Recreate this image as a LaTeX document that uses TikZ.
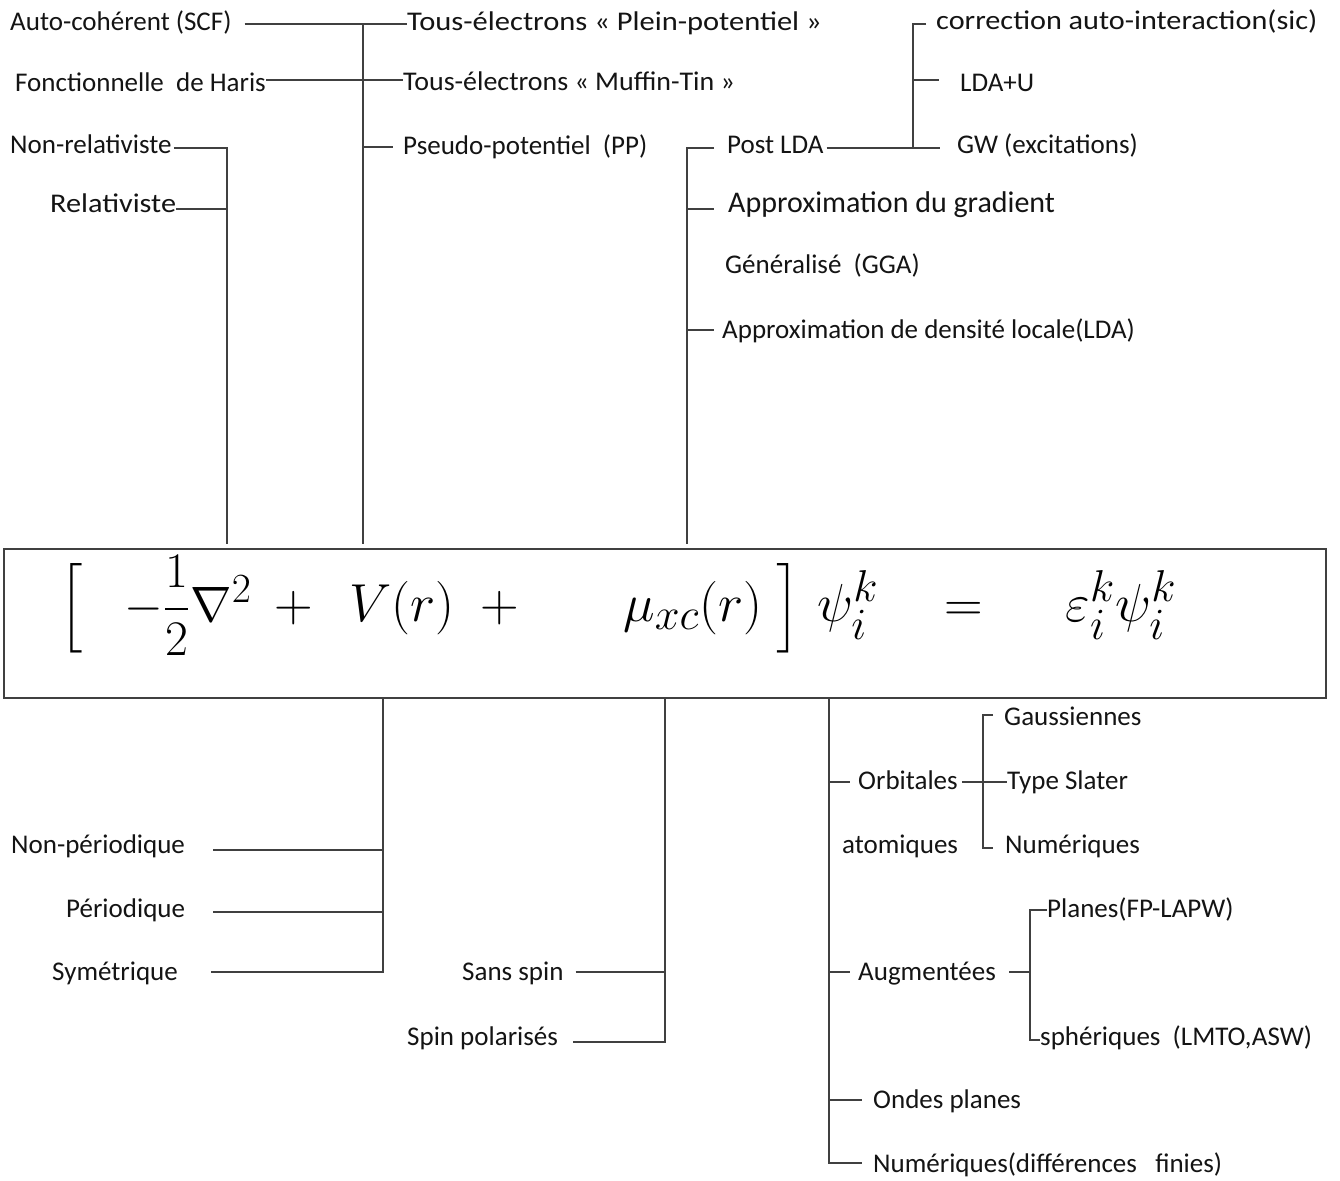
\documentclass[tikz,border=0pt]{standalone}
\usepackage{graphicx}
\usepackage{amsmath}
\usepackage{fontspec}
\setmainfont{Carlito}
\newcommand{\bigeq}[2][2.15]{\scalebox{#1}{\Huge$#2$}}
\newcommand{\wide}[2]{\scalebox{#1}[1]{#2}}
\begin{document}
\begin{tikzpicture}[x=1pt,y=-1pt,
  lbl/.style={anchor=base west,inner sep=0pt,font=\fontsize{27}{32}\selectfont,text=black!92},
  lblbig/.style={lbl,font=\fontsize{30}{34}\selectfont},
  ln/.style={draw=black!75,line width=1.4pt},
  eq/.style={anchor=base,inner sep=0pt}]
\useasboundingbox (0,0) rectangle (1340,1180);
\fill[white] (0,0) rectangle (1340,1180);

% equation box
\node[draw=black!75,line width=1.4pt,minimum width=1322pt,minimum height=149pt,inner sep=0pt] (eqbox) at (665,623.5) {};
\node[eq] (lb) at (72,621) {\bigeq[2.0]{\left[\vrule height 29.5pt depth 17.5pt width 0pt\right.}};
\node[eq] (t1) at (188,621) {\bigeq[2.0]{-\dfrac{1}{2}\nabla^2}};
\node[eq] (p1) at (294,621) {\bigeq{+}};
\node[eq] (t2) at (402,621) {\bigeq{V(r)}};
\node[eq] (p2) at (500,621) {\bigeq{+}};
\node[eq] (t3) at (693,621) {\bigeq{\mu_{xc}(r)}};
\node[eq] (rb) at (789,621) {\bigeq[2.0]{\left]\vrule height 29.5pt depth 17.5pt width 0pt\right.}};
\node[eq] (t4) at (848,621) {\bigeq{\psi_i^k}};
\node[eq] (eqs) at (964,621) {\bigeq{=}};
\node[eq] (t5) at (1121,621) {\bigeq{\varepsilon_i^k\psi_i^k}};

% top labels
\node[lbl] (scf) at (10,31) {Auto-cohérent (SCF)};
\node[lbl] (haris) at (15,92) {Fonctionnelle\ \ de Haris};
\node[lbl] (nonrel) at (10,153) {Non-relativiste};
\node[lbl] (rel) at (50,212) {\wide{1.12}{Relativiste}};
\node[lbl] (fp) at (407,31) {\wide{1.13}{Tous-électrons « Plein-potentiel »}};
\node[lbl] (mt) at (403,91) {\wide{1.035}{Tous-électrons « Muffin-Tin »}};
\node[lbl] (pp) at (403,154) {Pseudo-potentiel\ \ (PP)};
\node[lbl] (postlda) at (727,153) {Post LDA};
\node[lbl] (sic) at (936,30) {\wide{1.12}{correction auto-interaction(sic)}};
\node[lbl] (ldau) at (960,92) {LDA+U};
\node[lbl] (gw) at (957,153) {GW (excitations)};
\node[lblbig] (gga1) at (728,212) {Approximation du gradient};
\node[lbl] (gga2) at (725,273) {Généralisé\ \ (GGA)};
\node[lbl] (lda) at (722,338) {Approximation de densité locale(LDA)};

% bottom labels
\node[lbl] (nper) at (11,853) {Non-périodique};
\node[lbl] (per) at (66,917) {Périodique};
\node[lbl] (sym) at (52,980) {Symétrique};
\node[lbl] (sans) at (462,980) {Sans spin};
\node[lbl] (spol) at (407,1045) {Spin polarisés};
\node[lbl] (orb) at (858,789) {Orbitales};
\node[lbl] (atom) at (842,853) {atomiques};
\node[lbl] (gau) at (1004,725) {Gaussiennes};
\node[lbl] (slater) at (1007,789) {Type Slater};
\node[lbl] (num) at (1005,853) {Numériques};
\node[lbl] (aug) at (858,980) {Augmentées};
\node[lbl] (planes) at (1047,917) {Planes(FP-LAPW)};
\node[lbl] (sph) at (1040,1045) {sphériques\ \ (LMTO,ASW)};
\node[lbl] (ondes) at (873,1108) {Ondes planes};
\node[lbl] (numdf) at (873,1172) {Numériques(différences\ \ \ finies)};

% junction coordinates
\coordinate (a1) at (227,148); \coordinate (a2) at (227,209);
\coordinate (b1) at (363,24); \coordinate (b2) at (363,80); \coordinate (b3) at (363,147);
\coordinate (c1) at (687,148); \coordinate (c2) at (687,209); \coordinate (c3) at (687,330);
\coordinate (d1) at (913,24); \coordinate (d2) at (913,80); \coordinate (d3) at (913,148);
\coordinate (e1) at (383,850); \coordinate (e2) at (383,912); \coordinate (e3) at (383,972);
\coordinate (f1) at (665,972); \coordinate (f2) at (665,1042);
\coordinate (g1) at (829,782); \coordinate (g2) at (829,972); \coordinate (g3) at (829,1100); \coordinate (g4) at (829,1163);
\coordinate (h1) at (983,715); \coordinate (h2) at (983,782); \coordinate (h3) at (983,848);
\coordinate (i1) at (1030,910); \coordinate (i2) at (1030,972); \coordinate (i3) at (1030,1040);

% top-left tree
\draw[ln] ([xshift=2pt]nonrel.east |- a1) -- (a1) -- ([yshift=4pt]a1 |- eqbox.north);
\draw[ln] (rel.east |- a2) -- (a2);
% second tree
\draw[ln] ([xshift=13pt]scf.east |- b1) -- (fp.west |- b1);
\draw[ln] (b1) -- ([yshift=4pt]b1 |- eqbox.north);
\draw[ln] (haris.east |- b2) -- (mt.west |- b2);
\draw[ln] (b3) -- ([xshift=-10pt]pp.west |- b3);
% third tree
\draw[ln] ([xshift=-13pt]postlda.west |- c1) -- (c1) -- ([yshift=4pt]c1 |- eqbox.north);
\draw[ln] (c2) -- ([xshift=-14pt]gga1.west |- c2);
\draw[ln] (c3) -- ([xshift=-8pt]lda.west |- c3);
% post LDA tree
\draw[ln] ([xshift=3pt]postlda.east |- d3) -- ([xshift=-17pt]gw.west |- d3);
\draw[ln] ([xshift=-10pt]sic.west |- d1) -- (d1) -- (d3);
\draw[ln] (d2) -- ([xshift=-21pt]ldau.west |- d2);

% bottom-left tree
\draw[ln] (e1 |- eqbox.south) -- (e3) -- ([xshift=33pt]sym.east |- e3);
\draw[ln] ([xshift=28pt]nper.east |- e1) -- (e1);
\draw[ln] ([xshift=28pt]per.east |- e2) -- (e2);
% spin tree
\draw[ln] (f1 |- eqbox.south) -- (f2) -- ([xshift=15pt]spol.east |- f2);
\draw[ln] ([xshift=12pt]sans.east |- f1) -- (f1);
% basis tree
\draw[ln] (g1 |- eqbox.south) -- (g4) -- ([xshift=-11pt]numdf.west |- g4);
\draw[ln] (g1) -- ([xshift=-8pt]orb.west |- g1);
\draw[ln] (g2) -- ([xshift=-8pt]aug.west |- g2);
\draw[ln] (g3) -- ([xshift=-11pt]ondes.west |- g3);
% orbitales tree
\draw[ln] ([xshift=4pt]orb.east |- h2) -- (slater.west |- h2);
\draw[ln] ([xshift=-11pt]gau.west |- h1) -- (h1) -- (h3) -- ([xshift=-12pt]num.west |- h3);
% augmentees tree
\draw[ln] ([xshift=13pt]aug.east |- i2) -- (i2);
\draw[ln] (planes.west |- i1) -- (i1) -- (i3) -- (sph.west |- i3);
\end{tikzpicture}
\end{document}
